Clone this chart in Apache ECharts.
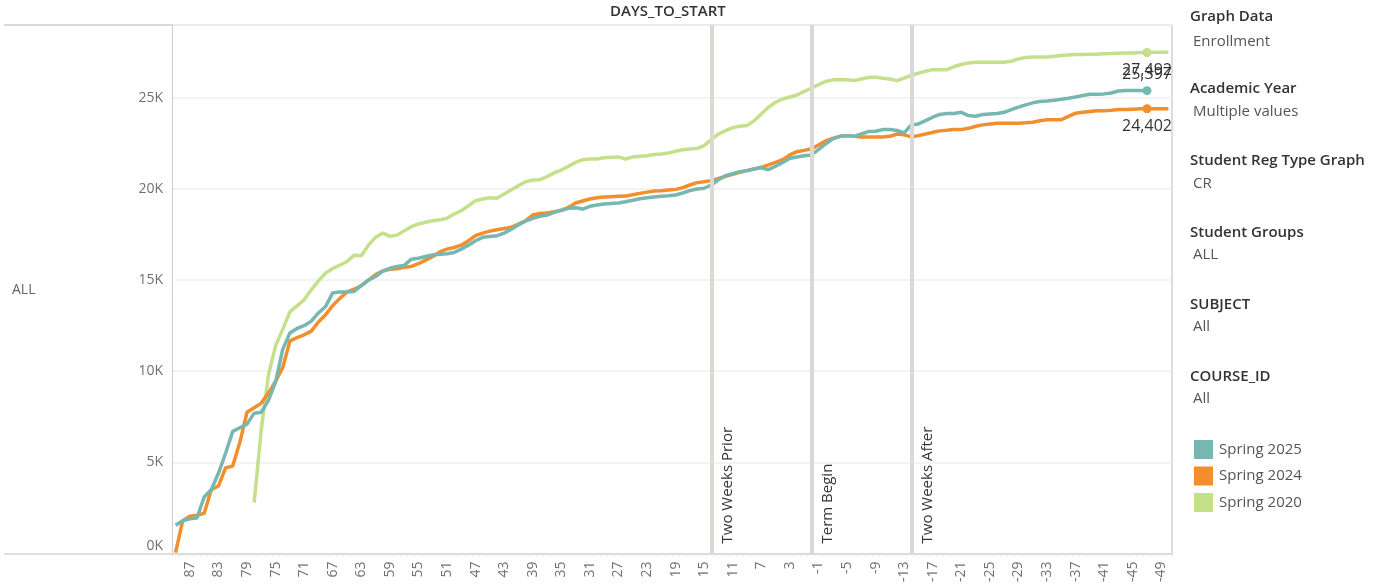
<!DOCTYPE html>
<html>
<head>
<meta charset="utf-8">
<script src="https://cdn.jsdelivr.net/npm/echarts@6/dist/echarts.min.js"></script>
<style>
html,body{margin:0;padding:0;background:#fff;}
#chart{width:1383px;height:585px;}
</style>
</head>
<body>
<div id="chart"></div>
<script>
const categories = ['89','88','87','86','85','84','83','82','81','80','79','78','77','76','75','74','73','72','71','70','69','68','67','66','65','64','63','62','61','60','59','58','57','56','55','54','53','52','51','50','49','48','47','46','45','44','43','42','41','40','39','38','37','36','35','34','33','32','31','30','29','28','27','26','25','24','23','22','21','20','19','18','17','16','15','14','13','12','11','10','9','8','7','6','5','4','3','2','1','0','-1','-2','-3','-4','-5','-6','-7','-8','-9','-10','-11','-12','-13','-14','-15','-16','-17','-18','-19','-20','-21','-22','-23','-24','-25','-26','-27','-28','-29','-30','-31','-32','-33','-34','-35','-36','-37','-38','-39','-40','-41','-42','-43','-44','-45','-46','-47','-48','-49','-50'];

const spring2025 = [1550,1800,1900,1950,3100,3500,4400,5500,6700,6900,
7100,7700,7750,8400,9400,11200,12100,12350,12500,12750,
13200,13550,14300,14350,14350,14380,14700,15000,15200,15500,
15650,15750,15800,16150,16200,16300,16380,16420,16450,16520,
16700,16920,17160,17350,17400,17440,17580,17800,18020,18240,
18390,18500,18570,18720,18830,18940,18970,18900,19050,19120,
19180,19210,19230,19300,19380,19470,19520,19560,19600,19630,
19670,19780,19910,20000,20040,20220,20510,20730,20840,20950,
21010,21100,21170,21060,21250,21460,21690,21760,21830,21870,
22160,22470,22750,22890,22930,22890,23020,23150,23170,23260,
23260,23210,23080,23520,23570,23750,23940,24090,24140,24140,
24210,24030,23990,24090,24120,24140,24210,24360,24490,24620,
24730,24800,24830,24870,24920,24980,25050,25130,25200,25200,
25220,25270,25380,25400,25400,25400,25397,null,null,null];

const spring2024 = [50,1800,2050,2100,2200,3500,3700,4700,4800,6100,
7750,8000,8250,8800,9450,10200,11650,11850,12000,12200,
12700,13100,13600,14000,14350,14500,14700,15000,15300,15500,
15600,15620,15700,15750,15900,16100,16300,16550,16700,16790,
16920,17160,17440,17580,17690,17760,17830,17910,18080,18260,
18570,18660,18680,18750,18830,18990,19230,19340,19450,19520,
19560,19580,19600,19610,19690,19760,19830,19890,19910,19950,
19980,20070,20220,20350,20400,20460,20580,20690,20800,20920,
21010,21100,21190,21320,21460,21610,21870,22050,22120,22200,
22420,22640,22780,22890,22930,22890,22860,22860,22860,22860,
22890,23020,22970,22860,22930,23020,23110,23190,23220,23260,
23260,23330,23440,23520,23570,23610,23610,23610,23610,23630,
23660,23750,23800,23800,23800,23990,24160,24210,24250,24290,
24290,24320,24360,24360,24380,24400,24402,24410,24410,24410];

const spring2020 = [null,null,null,null,null,null,null,null,null,null,
null,2800,6800,9800,11390,12300,13260,13590,13920,14470,
14960,15390,15640,15820,16020,16370,16340,16920,17350,17580,
17400,17470,17710,17930,18080,18180,18260,18310,18390,18630,
18810,19080,19360,19450,19520,19490,19730,19960,20180,20400,
20490,20510,20680,20880,21040,21250,21460,21610,21650,21650,
21720,21740,21760,21650,21760,21800,21830,21890,21920,21980,
22070,22160,22200,22230,22380,22710,23020,23200,23370,23440,
23480,23750,24120,24490,24760,24940,25050,25160,25350,25530,
25730,25900,25990,26010,25990,25950,26040,26120,26140,26080,
26040,25950,26080,26230,26360,26460,26550,26550,26550,26720,
26830,26920,26960,26960,26960,26960,26960,27010,27140,27220,
27240,27240,27250,27290,27330,27360,27380,27380,27400,27400,
27420,27430,27450,27470,27470,27490,27492,27500,27510,27510];

const seriesNames = ['Spring 2025','Spring 2024','Spring 2020'];
const markedDay = '-47';
const refLines = [['14','Two Weeks Prior'],['0','Term Begin'],['-14','Two Weeks After']];
const yTicks = [0,5000,10000,15000,20000,25000];
const panelTitles = ['Graph Data','Academic Year','Student Reg Type Graph','Student Groups','SUBJECT','COURSE_ID'];
const panelValues = ['Enrollment','Multiple values','CR','ALL','All','All'];
const axisTitle = 'DAYS_TO_START';
const rowHeader = 'ALL';

const FONT = '"Open Sans", "Noto Sans", sans-serif';
const colors = {'Spring 2025':'#76b7b2','Spring 2024':'#f28e2b','Spring 2020':'#c4e08a'};
const fmt = v => v.toLocaleString('en-US');

function endPoint(name, arr, pos, dist) {
  const idx = categories.indexOf(markedDay);
  return {
    symbol: 'circle', symbolSize: 9, silent: true,
    itemStyle: {color: colors[name]},
    label: {show: true, position: pos, distance: dist, color: '#333', fontSize: 16, fontFamily: FONT,
            formatter: p => fmt(p.value)},
    data: [{coord: [markedDay, arr[idx]], value: arr[idx]}]
  };
}

const chart = echarts.init(document.getElementById('chart'), null, {renderer: 'canvas'});

const graphic = [];
graphic.push({type:'line', shape:{x1:4,y1:25,x2:1172,y2:25}, style:{stroke:'#d9d9d9', lineWidth:2}, silent:true});
graphic.push({type:'line', shape:{x1:4,y1:554,x2:172,y2:554}, style:{stroke:'#d4d4d4', lineWidth:1.5}, silent:true});
graphic.push({type:'line', shape:{x1:1172,y1:25,x2:1172,y2:554}, style:{stroke:'#dcdcdc', lineWidth:2}, silent:true});
graphic.push({type:'text', left: 610, top: 4, style:{text: axisTitle, font: '600 15px ' + FONT, fill:'#333'}, silent:true});
graphic.push({type:'text', left: 12, top: 283, style:{text: rowHeader, font: '14px ' + FONT, fill:'#666'}, silent:true});
const titleY = [17, 89, 161, 233, 305, 377];
const valueY = [41, 111, 183, 254, 326, 398];
panelTitles.forEach((t, i) => {
  graphic.push({type:'text', left: 1190, top: titleY[i] - 8, style:{text: t, font: '600 15px ' + FONT, fill:'#333'}, silent:true});
  graphic.push({type:'text', left: 1193, top: valueY[i] - 7, style:{text: panelValues[i], font: '15px ' + FONT, fill:'#555'}, silent:true});
});

const option = {
  animation: false,
  backgroundColor: '#fff',
  grid: {left: 172, right: 211, top: 25, bottom: 31, containLabel: false},
  legend: {
    orient: 'vertical', left: 1194, top: 440, padding: 0, itemWidth: 19, itemHeight: 19, itemGap: 7.5,
    icon: 'rect', data: seriesNames, selectedMode: false,
    textStyle: {fontFamily: FONT, fontSize: 15, color: '#555', padding: [0,0,0,1]}
  },
  xAxis: {
    type: 'category', data: categories, boundaryGap: true,
    axisLine: {show: true, lineStyle: {color: '#d4d4d4', width: 1.5}},
    axisTick: {show: true, interval: 0, length: 3, lineStyle: {color: '#e2e2e2'}},
    axisLabel: {rotate: 90, margin: 8, fontSize: 14, fontFamily: FONT, color: '#707070',
                interval: (i, v) => (i % 4) === 2},
    splitLine: {show: false}
  },
  yAxis: {
    type: 'value', min: 0, max: 29000, interval: 5000,
    axisLine: {show: true, lineStyle: {color: '#cccccc', width: 1}},
    axisTick: {show: false},
    splitLine: {show: true, lineStyle: {color: '#efefef', width: 1.5}},
    axisLabel: {fontSize: 14, fontFamily: FONT, color: '#707070', margin: 9,
                showMaxLabel: false, verticalAlignMinLabel: 'bottom',
                formatter: v => (yTicks.indexOf(v) >= 0 ? (v / 1000) + 'K' : '')}
  },
  series: [
    {
      name: 'Spring 2020', type: 'line', data: spring2020, showSymbol: false, silent: true,
      lineStyle: {width: 3.5, color: colors['Spring 2020']}, itemStyle: {color: colors['Spring 2020']},
      markPoint: endPoint('Spring 2020', spring2020, 'bottom', 5),
      markLine: {
        silent: true, symbol: 'none',
        lineStyle: {color: '#dcd8d5', width: 4, type: 'solid'},
        label: {show: true, position: 'insideStartBottom', distance: [10, 9], color: '#333',
                fontSize: 15, fontFamily: FONT, formatter: '{b}'},
        data: refLines.map(r => ({xAxis: r[0], name: r[1]}))
      },
      z: 2
    },
    {
      name: 'Spring 2024', type: 'line', data: spring2024, showSymbol: false, silent: true,
      lineStyle: {width: 3.5, color: colors['Spring 2024']}, itemStyle: {color: colors['Spring 2024']},
      markPoint: endPoint('Spring 2024', spring2024, 'bottom', 5),
      z: 3
    },
    {
      name: 'Spring 2025', type: 'line', data: spring2025, showSymbol: false, silent: true,
      lineStyle: {width: 3.5, color: colors['Spring 2025']}, itemStyle: {color: colors['Spring 2025']},
      markPoint: endPoint('Spring 2025', spring2025, 'top', 4),
      z: 4
    }
  ],
  graphic: graphic
};
chart.setOption(option);
</script>
</body>
</html>
